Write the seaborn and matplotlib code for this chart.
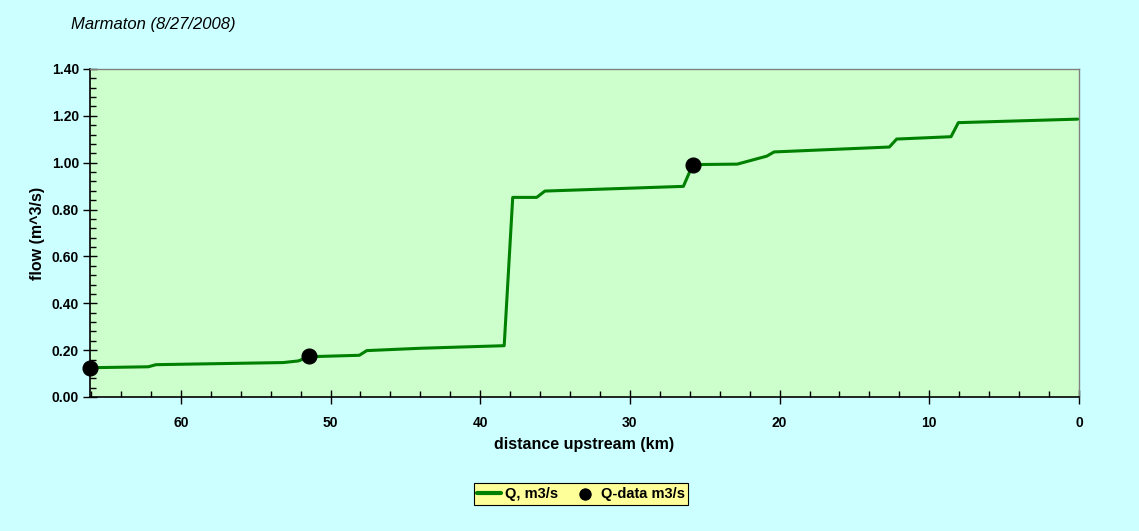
import matplotlib
matplotlib.use("Agg")
import matplotlib.pyplot as plt
from matplotlib.ticker import MultipleLocator, FormatStrFormatter
import seaborn as sns
import pandas as pd

# Simulated flow along the reach (distance upstream, km -> flow, m^3/s)
model_km = [66.07, 62.17, 61.66, 53.15, 52.15, 51.42, 48.08, 47.58, 44.0, 38.4,
            37.83, 36.23, 35.68, 26.43, 25.8, 22.83, 20.86, 20.37, 12.67, 12.18,
            8.55, 8.06, 0.09]
model_q = [0.125, 0.129, 0.138, 0.147, 0.154, 0.172, 0.178, 0.198, 0.208, 0.219,
           0.852, 0.852, 0.879, 0.899, 0.992, 0.994, 1.028, 1.046, 1.067, 1.101,
           1.111, 1.171, 1.186]

# Measured flows
obs_km = [66.07, 51.42, 25.8]
obs_q = [0.125, 0.173, 0.992]

model = pd.DataFrame({"km": model_km, "q": model_q})
obs = pd.DataFrame({"km": obs_km, "q": obs_q})

sns.set_theme(style="white")
plt.rcParams["font.family"] = ["Liberation Sans", "DejaVu Sans"]
plt.rcParams["text.color"] = "black"
plt.rcParams["axes.labelcolor"] = "black"
plt.rcParams["xtick.color"] = "black"
plt.rcParams["ytick.color"] = "black"

fig = plt.figure(figsize=(11.39, 5.31), dpi=100, facecolor="#CCFFFF")
ax = fig.add_axes([90 / 1139, 1 - 397 / 531, (1079 - 90) / 1139, (397 - 69) / 531])
ax.set_facecolor("#CCFFCC")

sns.lineplot(data=model, x="km", y="q", ax=ax, color="#008000", linewidth=2.2,
             sort=False, label="Q, m3/s", zorder=3)
sns.scatterplot(data=obs, x="km", y="q", ax=ax, color="black", s=115,
                edgecolor="black", label="Q-data m3/s", zorder=4, clip_on=False)

ax.set_xlim(66.07, 0)
ax.set_ylim(0, 1.40)
ax.xaxis.set_major_locator(MultipleLocator(10))
ax.xaxis.set_minor_locator(MultipleLocator(2))
ax.yaxis.set_major_locator(MultipleLocator(0.2))
ax.yaxis.set_minor_locator(MultipleLocator(0.04))
ax.yaxis.set_major_formatter(FormatStrFormatter("%.2f"))
ax.xaxis.set_major_formatter(FormatStrFormatter("%d"))

ax.tick_params(which="major", direction="inout", length=10, width=1, color="black",
               labelsize=10, labelcolor="black", left=True, bottom=True)
ax.tick_params(which="minor", direction="in", length=4, width=1, color="black",
               left=True, bottom=True)
ax.tick_params(axis="y", pad=3)
ax.tick_params(axis="x", pad=9)
for lbl in ax.get_xticklabels() + ax.get_yticklabels():
    lbl.set_fontweight("bold")

for side in ("left", "bottom"):
    ax.spines[side].set_color("black")
    ax.spines[side].set_linewidth(1.2)
for side in ("top", "right"):
    ax.spines[side].set_color("#808080")
    ax.spines[side].set_linewidth(1.0)

ax.set_xlabel("distance upstream (km)", fontsize=11.5, fontweight="bold", labelpad=5)
ax.set_ylabel("flow (m^3/s)", fontsize=11.5, fontweight="bold", labelpad=5)

fig.text(71 / 1139, 1 - 25 / 531, "Marmaton (8/27/2008)", fontsize=12,
         style="italic", va="center", ha="left", color="black")

leg = ax.legend(loc="center", bbox_to_anchor=(581 / 1139, 1 - 494 / 531),
                bbox_transform=fig.transFigure, ncol=2, frameon=True,
                fancybox=False, facecolor="#FFFF99", edgecolor="black",
                prop={"weight": "bold", "size": 10.5}, handlelength=1.6,
                handletextpad=0.3, columnspacing=1.0, borderpad=0.25,
                markerscale=0.75)
leg.get_frame().set_linewidth(0.8)
leg.get_frame().set_alpha(1)
for h in leg.legend_handles:
    if h.__class__.__name__ == "Line2D":
        h.set_linewidth(3)

fig.savefig("out.png", dpi=100, facecolor=fig.get_facecolor())
